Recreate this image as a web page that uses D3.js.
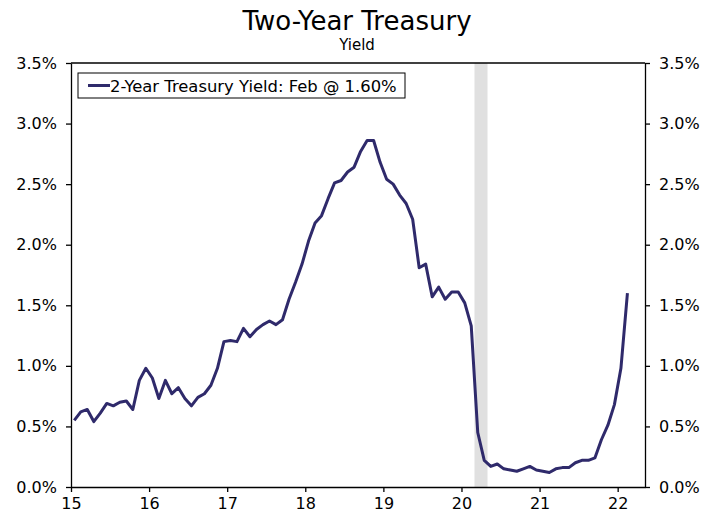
<!DOCTYPE html>
<html>
<head>
<meta charset="utf-8">
<script src="https://cdn.jsdelivr.net/npm/d3@7/dist/d3.min.js"></script>
<style>
  html, body { margin: 0; padding: 0; background: #fff; }
  svg { display: block; font-family: "DejaVu Sans", Verdana, sans-serif; }
</style>
</head>
<body>
<svg id="chart" width="716" height="519"></svg>
<script>
// Monthly average 2-year Treasury yield (%), Jan 2015 through Feb 2022
const startYear = 2015;
const yields = [
  // 2015
  0.55, 0.62, 0.64, 0.54, 0.61, 0.69, 0.67, 0.70, 0.71, 0.64, 0.88, 0.98,
  // 2016
  0.90, 0.73, 0.88, 0.77, 0.82, 0.73, 0.67, 0.74, 0.77, 0.84, 0.98, 1.20,
  // 2017
  1.21, 1.20, 1.31, 1.24, 1.30, 1.34, 1.37, 1.34, 1.38, 1.55, 1.69, 1.84,
  // 2018
  2.03, 2.18, 2.24, 2.38, 2.51, 2.53, 2.60, 2.64, 2.77, 2.86, 2.86, 2.68,
  // 2019
  2.54, 2.50, 2.41, 2.34, 2.21, 1.81, 1.84, 1.57, 1.65, 1.55, 1.61, 1.61,
  // 2020
  1.52, 1.33, 0.45, 0.22, 0.17, 0.19, 0.15, 0.14, 0.13, 0.15, 0.17, 0.14,
  // 2021
  0.13, 0.12, 0.15, 0.16, 0.16, 0.20, 0.22, 0.22, 0.24, 0.39, 0.51, 0.68,
  // 2022
  0.98, 1.60
];
const recession = [2020 + 2 / 12, 2020 + 4 / 12];   // Mar–Apr 2020
const yearTicks = [2015, 2016, 2017, 2018, 2019, 2020, 2021, 2022];
const pctTicks = [0, 0.5, 1.0, 1.5, 2.0, 2.5, 3.0, 3.5];
const legendLabel = "2-Year Treasury Yield: Feb @ 1.60%";
const titleText = "Two-Year Treasury";
const subtitleText = "Yield";

const svg = d3.select("#chart");
const plot = { left: 71, right: 645, top: 63, bottom: 487 };

const x = d3.scaleLinear()
  .domain([2015, 2022 + 4.2 / 12])
  .range([plot.left, plot.right]);
const y = d3.scaleLinear()
  .domain([0, 3.5])
  .range([plot.bottom, plot.top]);

const series = yields.map((v, i) => ({ t: startYear + (i + 0.5) / 12, v }));

// Recession shading
svg.append("rect")
  .attr("x", x(recession[0]))
  .attr("y", y(3.5))
  .attr("width", x(recession[1]) - x(recession[0]))
  .attr("height", y(0) - y(3.5))
  .attr("fill", "#e0e0e0");

// Axes
const fmtPct = d => d.toFixed(1) + "%";
const styleAxis = g => {
  g.selectAll("path.domain").attr("stroke", "#000").attr("stroke-width", 1.3);
  g.selectAll(".tick line").attr("stroke", "#000").attr("stroke-width", 1.3);
  g.selectAll(".tick text").attr("fill", "#000")
    .style("font-family", '"DejaVu Sans", Verdana, sans-serif')
    .style("font-size", "16px");
};

svg.append("g")
  .attr("transform", `translate(${plot.left},0)`)
  .call(d3.axisLeft(y).tickValues(pctTicks).tickFormat(fmtPct).tickSize(5).tickSizeOuter(0).tickPadding(9))
  .call(styleAxis);

svg.append("g")
  .attr("transform", `translate(${plot.right},0)`)
  .call(d3.axisRight(y).tickValues(pctTicks).tickFormat(fmtPct).tickSize(5).tickSizeOuter(0).tickPadding(9))
  .call(styleAxis);

svg.append("g")
  .attr("transform", `translate(0,${plot.bottom})`)
  .call(d3.axisBottom(x).tickValues(yearTicks).tickFormat(d => String(d).slice(2)).tickSize(5).tickSizeOuter(0).tickPadding(6))
  .call(styleAxis);

// Top frame line
svg.append("line")
  .attr("x1", plot.left).attr("x2", plot.right)
  .attr("y1", y(3.5)).attr("y2", y(3.5))
  .attr("stroke", "#000").attr("stroke-width", 1.3);

// Yield line
const line = d3.line().x(d => x(d.t)).y(d => y(d.v));
svg.append("path")
  .datum(series)
  .attr("d", line)
  .attr("fill", "none")
  .attr("stroke", "#2f2a6b")
  .attr("stroke-width", 3)
  .attr("stroke-linejoin", "round");

// Legend
const legend = svg.append("g").attr("transform", "translate(78,73)");
legend.append("rect")
  .attr("x", 0).attr("y", 0).attr("width", 327).attr("height", 25)
  .attr("fill", "#fff").attr("stroke", "#000").attr("stroke-width", 1);
legend.append("line")
  .attr("x1", 10).attr("x2", 32).attr("y1", 12.5).attr("y2", 12.5)
  .attr("stroke", "#2f2a6b").attr("stroke-width", 3);
legend.append("text")
  .attr("x", 32).attr("y", 18.5)
  .style("font-size", "16.4px")
  .attr("fill", "#000")
  .text(legendLabel);

// Titles
svg.append("text")
  .attr("x", 357).attr("y", 30)
  .attr("text-anchor", "middle")
  .style("font-size", "26px")
  .attr("fill", "#000")
  .text(titleText);
svg.append("text")
  .attr("x", 357).attr("y", 50)
  .attr("text-anchor", "middle")
  .style("font-size", "15px")
  .attr("fill", "#000")
  .text(subtitleText);
</script>
</body>
</html>
